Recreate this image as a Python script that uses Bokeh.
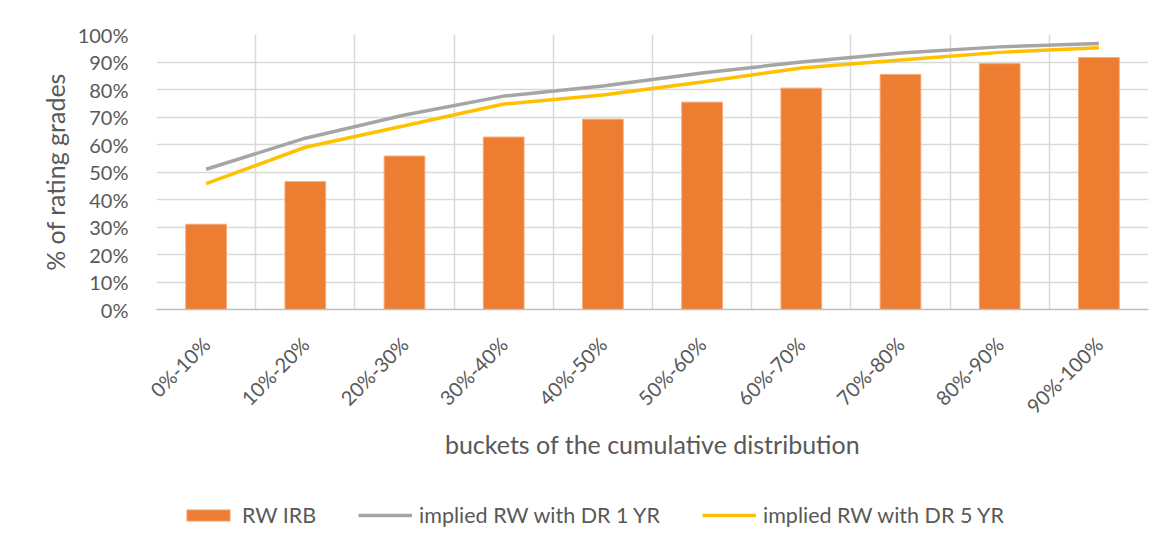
from bokeh.plotting import figure
from bokeh.layouts import column
from bokeh.models import (FixedTicker, NumeralTickFormatter, Range1d, Legend, LegendItem)
from bokeh.embed import file_html
from bokeh.resources import INLINE
import math

categories = ["0%-10%", "10%-20%", "20%-30%", "30%-40%", "40%-50%",
              "50%-60%", "60%-70%", "70%-80%", "80%-90%", "90%-100%"]
rw_irb = [0.31, 0.465, 0.558, 0.627, 0.692, 0.754, 0.805, 0.855, 0.894, 0.916]
dr_1yr = [0.51, 0.623, 0.707, 0.776, 0.813, 0.86, 0.90, 0.933, 0.955, 0.967]
dr_5yr = [0.458, 0.59, 0.668, 0.747, 0.78, 0.827, 0.878, 0.907, 0.935, 0.952]
series_names = ["RW IRB", "implied RW with DR 1 YR", "implied RW with DR 5 YR"]

FONT = "Lato"
TXT = "#595959"
GRID = "#D9D9D9"
C_BAR, C_1, C_5 = "#ED7D31", "#A5A5A5", "#FFC000"

xs = [i + 0.5 for i in range(len(categories))]


def draw_series(fig):
    b = fig.vbar(x=xs, top=rw_irb, width=0.41, fill_color=C_BAR,
                 line_color="#F4A878", line_width=1)
    a = fig.line(xs, dr_1yr, line_color=C_1, line_width=3.5)
    c = fig.line(xs, dr_5yr, line_color=C_5, line_width=3.5)
    return b, a, c


p = figure(width=1158, height=470, output_backend="svg", toolbar_location=None,
           x_range=Range1d(0, len(categories)), y_range=Range1d(0, 1),
           min_border_left=156, min_border_right=10, min_border_top=34,
           min_border_bottom=161)
p.outline_line_color = None
p.background_fill_color = "white"
p.border_fill_color = "white"
draw_series(p)

# x axis
p.xaxis.ticker = FixedTicker(ticks=xs)
p.xaxis.major_label_overrides = {x: c for x, c in zip(xs, categories)}
p.xaxis.major_label_orientation = math.pi / 4
p.xaxis.major_tick_line_color = None
p.xaxis.minor_tick_line_color = None
p.xaxis.axis_line_color = "#BFBFBF"
p.xaxis.axis_line_width = 1.5
p.xaxis.major_label_text_font = FONT
p.xaxis.major_label_text_font_size = "20px"
p.xaxis.major_label_text_color = TXT
p.xaxis.major_label_standoff = 25
p.xaxis.axis_label = "buckets of the cumulative distribution"
p.xaxis.axis_label_text_font = FONT
p.xaxis.axis_label_text_font_size = "25px"
p.xaxis.axis_label_text_font_style = "normal"
p.xaxis.axis_label_text_color = TXT
p.xaxis.axis_label_standoff = 0

# y axis
p.yaxis.ticker = FixedTicker(ticks=[i / 10 for i in range(11)])
p.yaxis.formatter = NumeralTickFormatter(format="0%")
p.yaxis.axis_line_color = None
p.yaxis.major_tick_line_color = None
p.yaxis.minor_tick_line_color = None
p.yaxis.major_label_text_font = FONT
p.yaxis.major_label_text_font_size = "20px"
p.yaxis.major_label_text_color = TXT
p.yaxis.major_label_standoff = 22
p.yaxis.axis_label = "% of rating grades"
p.yaxis.axis_label_text_font = FONT
p.yaxis.axis_label_text_font_size = "25px"
p.yaxis.axis_label_text_font_style = "normal"
p.yaxis.axis_label_text_color = TXT
p.yaxis.axis_label_standoff = 5

# grids
p.xgrid.ticker = FixedTicker(ticks=list(range(len(categories) + 1)))
p.xgrid.grid_line_color = GRID
p.xgrid.grid_line_width = 1.5
p.ygrid.grid_line_color = GRID
p.ygrid.grid_line_width = 1.5

# legend strip below the chart (series drawn out of view, only legend shows)
lf = figure(width=1158, height=65, output_backend="svg", toolbar_location=None,
            x_range=Range1d(0, len(categories)), y_range=Range1d(5, 6),
            x_axis_type=None, y_axis_type=None,
            min_border_left=0, min_border_right=0, min_border_top=0, min_border_bottom=0)
lf.outline_line_color = None
lf.xgrid.visible = False
lf.ygrid.visible = False
lf.border_fill_color = "white"
lb, ll1, ll5 = draw_series(lf)

legend = Legend(items=[
    LegendItem(label=series_names[0], renderers=[lb]),
    LegendItem(label=series_names[1], renderers=[ll1]),
    LegendItem(label=series_names[2], renderers=[ll5]),
], orientation="horizontal", location=(25, 7),
    label_text_font=FONT, label_text_font_size="21.5px", label_text_color=TXT,
    glyph_width=54, glyph_height=14, spacing=42, label_standoff=7,
    border_line_color=None, background_fill_alpha=0, padding=0, margin=0)
lf.add_layout(legend, "center")

layout = column(p, lf, spacing=0)
open("out.html", "w").write(file_html(layout, INLINE))
